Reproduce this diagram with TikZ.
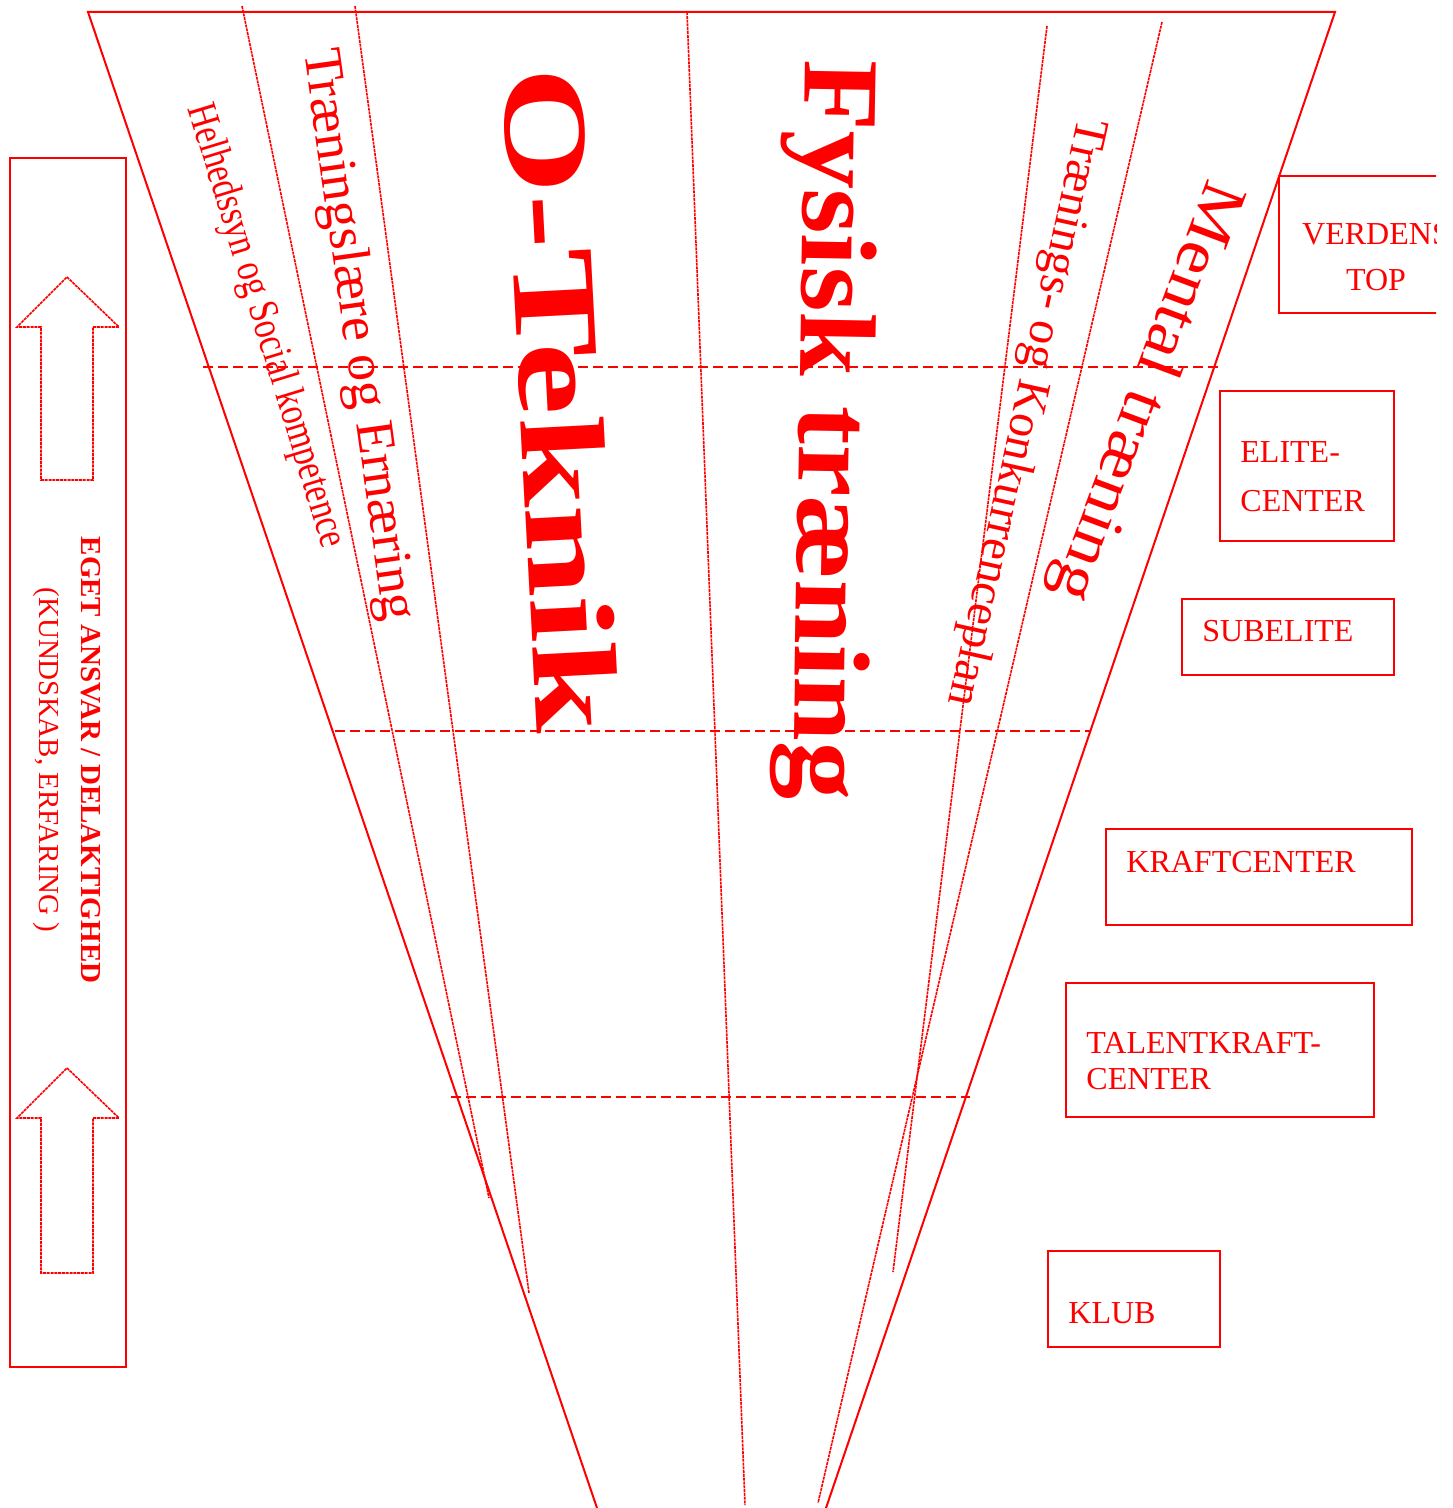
\documentclass[tikz,border=0pt]{standalone}
\usepackage{fontspec}
\setmainfont{Liberation Serif}
\usepackage{graphicx}

\tikzset{
  edge/.style={red, line width=1pt},
  fine/.style={red, line width=0.8pt, dash pattern=on 1.5pt off 0.4pt},
  level/.style={red, line width=0.8pt, dash pattern=on 5pt off 2.5pt},
  box/.style={draw=red, line width=0.8pt, anchor=north west, inner sep=0pt},
  boxtext/.style={red, font=\fontsize{16}{18}\selectfont, inner sep=0pt, align=left},
  word/.style={red, inner sep=0pt},
}

\begin{document}
\begin{tikzpicture}[x=0.5pt, y=-0.5pt]
\useasboundingbox (0,0) rectangle (1452,1508);
\clip (0,0) rectangle (1436,1508);

% funnel
\draw[edge] (597,1508) -- (88,12) -- (1335,12) -- (826,1508);
\draw[fine] (242,6) -- (489,1198);
\draw[fine] (355,6) -- (529,1293);
\draw[fine] (687,12) -- (745,1505);
\draw[fine] (1047,26) -- (893,1272);
\draw[fine] (1162,22) -- (818,1503);

% levels
\draw[level] (203,367) -- (1220,367);
\draw[level] (335,731) -- (1090,731);
\draw[level] (451,1097) -- (970,1097);

% themes
\node[word, rotate=-73, font=\fontsize{20}{20}\selectfont] (helhed) at (265,326)
  {\scalebox{0.84}[1.05]{Helhedssyn og Social kompetence}};
\node[word, rotate=-82, font=\fontsize{27}{27}\selectfont] (traening) at (357,335)
  {Træningslære og Ernæring};
\node[word, rotate=-87, font=\fontsize{60}{60}\selectfont\bfseries] (oteknik) at (561,400)
  {\scalebox{1.36}[1]{O-Teknik}};
\node[word, rotate=-91, font=\fontsize{60}{60}\selectfont\bfseries] (fysisk) at (825,430)
  {\scalebox{0.97}[0.9]{Fysisk træning}};
\node[word, rotate=-102.5, font=\fontsize{24}{24}\selectfont] (konkurrence) at (1025,412)
  {Trænings- og Konkurrenceplan};
\node[word, rotate=-110.5, font=\fontsize{32}{32}\selectfont] (mental) at (1145,391)
  {\scalebox{1.13}[1]{Mental træning}};

% responsibility column
\node[box, minimum width=58pt, minimum height=604.5pt] (ansvar) at (9,157) {};
\draw[fine] (67,277) -- (119,327) -- (93,327) -- (93,480) -- (41,480) -- (41,327) -- (17,327) -- cycle;
\draw[fine] (67,1068) -- (119,1118) -- (93,1118) -- (93,1273) -- (41,1273) -- (41,1118) -- (17,1118) -- cycle;
\node[red, rotate=-90, align=center, inner sep=0pt, font=\fontsize{14.5}{21}\selectfont] (ansvartxt) at (67,760)
  {\textbf{EGET ANSVAR / DELAKTIGHED}\\(KUNDSKAB, ERFARING )};

% levels of the ladder
\node[box, minimum width=96pt, minimum height=68.5pt] (verden) at (1278,175) {};
\node[boxtext, align=center, anchor=north, font=\fontsize{16}{23}\selectfont] (verdentxt) at (1376,223) {VERDENS\\TOP};
\node[box, minimum width=87pt, minimum height=75pt] (elite) at (1219,390) {};
\node[boxtext, anchor=north west, font=\fontsize{16}{24.5}\selectfont] (elitetxt) at (1240,441) {ELITE-\\CENTER};
\node[box, minimum width=106pt, minimum height=38pt] (subelite) at (1181,598) {};
\node[boxtext, anchor=base west] (subelitetxt) at (1202,641) {SUBELITE};
\node[box, minimum width=153pt, minimum height=48pt] (kraft) at (1105,828) {};
\node[boxtext, anchor=base west] (krafttxt) at (1126,872) {KRAFTCENTER};
\node[box, minimum width=154pt, minimum height=67pt] (talent) at (1065,982) {};
\node[boxtext, anchor=north west] (talenttxt) at (1086,1032) {TALENTKRAFT-\\CENTER};
\node[box, minimum width=86pt, minimum height=48pt] (klub) at (1047,1250) {};
\node[boxtext, anchor=base west] (klubtxt) at (1068,1323) {KLUB};

\end{tikzpicture}
\end{document}
